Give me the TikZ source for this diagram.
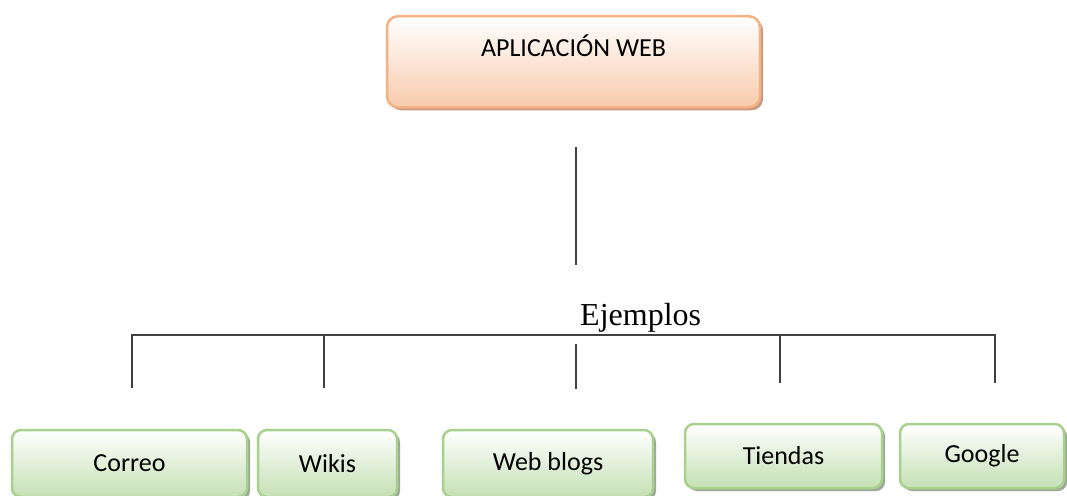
\documentclass[tikz,border=0pt]{standalone}
\usepackage{fontspec}
\setmainfont{Carlito}
\newfontfamily\serifface{Liberation Serif}
\usetikzlibrary{shadows}
\definecolor{peachfill}{HTML}{F8CBAD}
\definecolor{peachline}{HTML}{F4B183}
\definecolor{peachshadow}{HTML}{C49A80}
\definecolor{greenfill}{HTML}{C5E0B4}
\definecolor{greenline}{HTML}{A9D18E}
\definecolor{greenshadow}{HTML}{9EA89A}
\definecolor{conn}{HTML}{404040}
\tikzset{
  topbox/.style={draw=peachline, line width=2.5pt, rounded corners=11pt,
    top color=white, bottom color=peachfill, minimum width=373pt,
    inner ysep=0pt, text height=40pt, text depth=51pt,
    font=\fontsize{26}{30}\selectfont,
    drop shadow={shadow xshift=3pt, shadow yshift=-3pt, fill=peachshadow, opacity=1}},
  leafbox/.style={draw=greenline, line width=2.5pt, rounded corners=9pt,
    top color=white, bottom color=greenfill, inner sep=0pt,
    font=\fontsize{26}{30}\selectfont,
    drop shadow={shadow xshift=3pt, shadow yshift=-3pt, fill=greenshadow, opacity=1}},
  connector/.style={draw=conn, line width=1.3pt},
}
\begin{document}
\begin{tikzpicture}[x=1pt,y=-1pt]
\useasboundingbox (0,0) rectangle (1067,495);
\node[topbox, anchor=north] (app) at (573.5,15) {APLICACIÓN WEB};
\node[anchor=base west, font=\serifface\fontsize{32}{36}\selectfont, inner sep=0pt] (ej) at (580,325) {Ejemplos};

\node[leafbox, minimum width=235pt, minimum height=67pt] (correo) at (129.5,463.5) {Correo};
\node[leafbox, minimum width=139pt, minimum height=67pt] (wikis) at (327.5,463.5) {Wikis};
\node[leafbox, minimum width=210pt, minimum height=67pt] (blogs) at (548,463.5) {Web blogs};
\node[leafbox, minimum width=197pt, minimum height=64pt] (tiendas) at (783.5,456) {Tiendas};
\node[leafbox, minimum width=164pt, minimum height=64pt] (google) at (982,456) {Google};

\coordinate (t1) at (576,147);
\coordinate (t2) at (576,265);
\coordinate (h1) at (132,335);
\coordinate (h2) at (995,335);
\coordinate (v1) at (132,388);
\coordinate (v2a) at (324,335);
\coordinate (v2) at (324,388);
\coordinate (v3a) at (576,344);
\coordinate (v3) at (576,389);
\coordinate (v4a) at (780,335);
\coordinate (v4) at (780,383);
\coordinate (v5) at (995,383);

\draw[connector] (t1) -- (t2);
\draw[connector] (v1) -- (h1) -- (h2) -- (v5);
\draw[connector] (v2a) -- (v2);
\draw[connector] (v3a) -- (v3);
\draw[connector] (v4a) -- (v4);
\end{tikzpicture}
\end{document}
